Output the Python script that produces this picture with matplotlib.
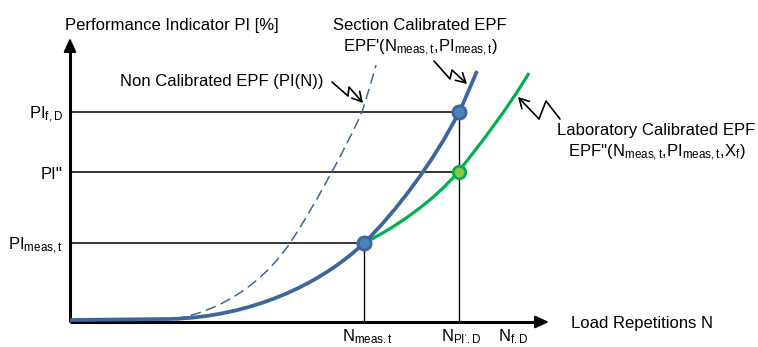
import matplotlib.pyplot as plt
from matplotlib.path import Path
from matplotlib.patches import PathPatch, FancyArrowPatch

plt.rcParams['font.family'] = ['Liberation Sans', 'DejaVu Sans']
plt.rcParams['mathtext.fontset'] = 'custom'
plt.rcParams['mathtext.rm'] = 'Liberation Sans'
plt.rcParams['mathtext.it'] = 'Liberation Sans:italic'

# schematic units: N along x, PI along y
N_meas = 294
N_pi_d = 389
N_f_d = 443
PI_meas = 79
PI_pp = 150
PI_f_d = 210

# bezier vertices (start, then groups of control, control, end)
section_epf = [(0, 2), (100, 3),
               (180, 5), (250, 37), (294, 79),
               (325, 109), (365, 162), (389, 210),
               (395, 222), (401, 237), (407, 251)]
non_cal_epf = [(105, 3),
               (155, 12), (195, 42), (220, 79),
               (242, 112), (275, 172), (292, 210),
               (297, 226), (302, 242), (306, 257)]
lab_epf = [(294, 79),
           (325, 94), (365, 122), (388, 150),
           (410, 177), (440, 217), (459, 249)]

# zig-zag pointers from captions to curves
ptr_non_cal = [(262, 240), (278, 226), (279, 235), (293, 219)]
ptr_section = [(364, 261), (380, 243), (382, 252), (397, 238)]
ptr_lab = [(490, 203), (476, 221), (469, 203), (448, 225)]

BLUE = '#3d669c'
BLUE_FACE = '#4f81bd'
GREEN = '#00b050'
GREEN_FACE = '#8cc63f'


def curve_path(pts, first_line=False):
    codes = [Path.MOVETO]
    rest = pts[1:]
    if first_line:
        codes.append(Path.LINETO)
        rest = pts[2:]
    codes += [Path.CURVE4] * len(rest)
    return Path(pts, codes)


fig = plt.figure(figsize=(7.58, 3.47), dpi=100)
ax = fig.add_axes([0, 0, 1, 1])
ax.set_xlim(-70, 688)
ax.set_ylim(-25, 322)
ax.axis('off')

# axes with arrow heads
ax.plot([0, 0], [0, 272], color='black', lw=2.2, solid_capstyle='butt', zorder=3)
ax.plot([0, 467], [0, 0], color='black', lw=2.2, solid_capstyle='butt', zorder=3)
for tip, tail in [((0, 284), (0, 268)), ((479, 0), (463, 0))]:
    ax.annotate('', xy=tip, xytext=tail,
                arrowprops=dict(arrowstyle='-|>,head_length=0.55,head_width=0.25',
                                mutation_scale=15, lw=1.5, color='black',
                                shrinkA=0, shrinkB=0), zorder=3)

# reference lines
for lvl, n in [(PI_f_d, N_pi_d), (PI_pp, N_pi_d), (PI_meas, N_meas)]:
    ax.plot([0, n], [lvl, lvl], color='black', lw=1.1, zorder=2)
ax.plot([N_meas, N_meas], [0, PI_meas], color='black', lw=1.0, zorder=2)
ax.plot([N_pi_d, N_pi_d], [0, PI_f_d], color='black', lw=1.0, zorder=2)

# curves
ax.add_patch(PathPatch(curve_path(non_cal_epf), fill=False, ec=BLUE, lw=1.1,
                       ls=(0, (7, 3.5)), zorder=4))
ax.add_patch(PathPatch(curve_path(lab_epf), fill=False, ec=GREEN, lw=2.3,
                       capstyle='butt', zorder=5))
ax.add_patch(PathPatch(curve_path(section_epf, first_line=True), fill=False,
                       ec=BLUE, lw=2.7, capstyle='butt', zorder=6))

# points
ax.plot([N_meas, N_pi_d], [PI_meas, PI_f_d], 'o', ms=9.5, mfc=BLUE_FACE,
        mec=BLUE, mew=2.0, zorder=7)
ax.plot([N_pi_d], [PI_pp], 'o', ms=9.0, mfc=GREEN_FACE, mec=GREEN, mew=2.0,
        zorder=7)

# pointers
for pts in [ptr_non_cal, ptr_section, ptr_lab]:
    codes = [Path.MOVETO] + [Path.LINETO] * (len(pts) - 1)
    ax.add_patch(FancyArrowPatch(path=Path(pts, codes),
                                 arrowstyle='->,head_length=0.45,head_width=0.25',
                                 mutation_scale=15, lw=1.2, color='black',
                                 shrinkA=0, shrinkB=0, zorder=8))

fs = 12
ax.text(-5, 292, 'Performance Indicator PI [%]', fontsize=fs, va='baseline')
ax.text(50, 236, 'Non Calibrated EPF (PI(N))', fontsize=fs, va='baseline')
ax.text(350, 292, 'Section Calibrated EPF', fontsize=fs, ha='center', va='baseline')
ax.text(350, 270, r"EPF'(N$_{\mathrm{meas,t}}$,PI$_{\mathrm{meas,t}}$)",
        fontsize=fs, ha='center', va='baseline')
ax.text(586, 187, 'Laboratory Calibrated EPF', fontsize=fs, ha='center', va='baseline')
ax.text(587, 165, r"EPF''(N$_{\mathrm{meas,t}}$,PI$_{\mathrm{meas,t}}$,X$_{\mathrm{f}}$)",
        fontsize=fs, ha='center', va='baseline')
ax.text(501, -6, 'Load Repetitions N', fontsize=fs, va='baseline')

ax.text(-7, 203, r'PI$_{\mathrm{f,D}}$', fontsize=fs, ha='right', va='baseline')
ax.text(-7, 143, "PI''", fontsize=fs, ha='right', va='baseline')
ax.text(-7, 72, r'PI$_{\mathrm{meas,t}}$', fontsize=fs, ha='right', va='baseline')

ax.text(N_meas + 3, -19, r'N$_{\mathrm{meas.t}}$', fontsize=fs, ha='center', va='baseline')
ax.text(N_pi_d + 2, -19, r"N$_{\mathrm{PI'.D}}$", fontsize=fs, ha='center', va='baseline')
ax.text(N_f_d, -19, r'N$_{\mathrm{f.D}}$', fontsize=fs, ha='center', va='baseline')

fig.savefig('out.png', dpi=100)
